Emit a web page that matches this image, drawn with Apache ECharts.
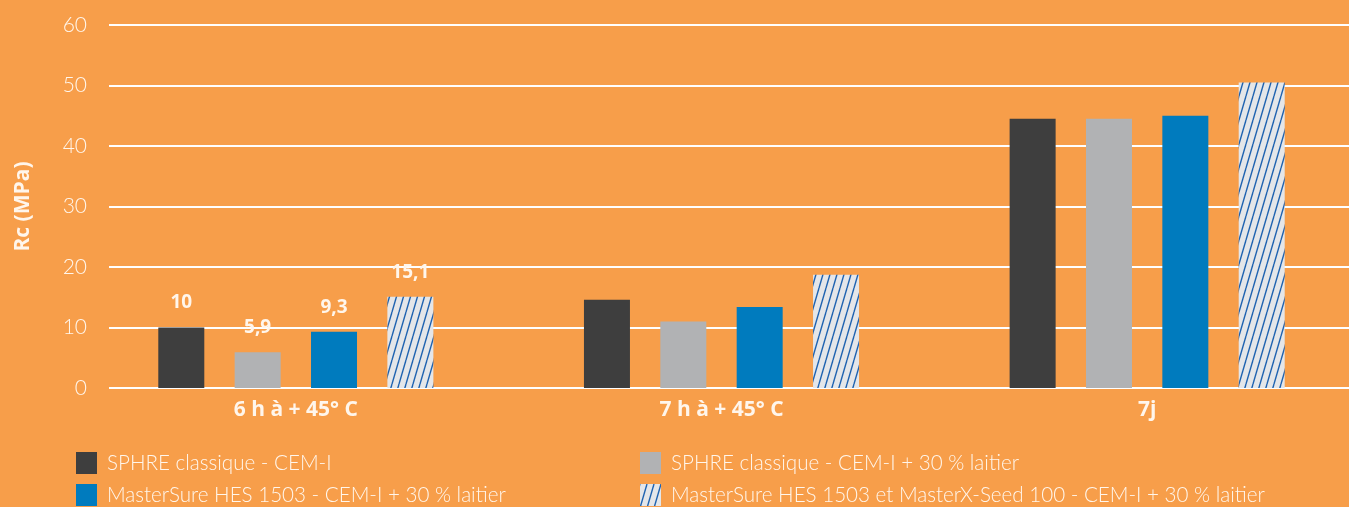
<!DOCTYPE html>
<html>
<head>
<meta charset="utf-8">
<script src="https://cdn.jsdelivr.net/npm/echarts@6/dist/echarts.min.js"></script>
<style>
html,body{margin:0;padding:0;background:#F79E4A;}
#chart{width:1349px;height:507px;}
</style>
</head>
<body>
<div id="chart"></div>
<script>
// ---- data ----
const categories = ['6 h à + 45° C', '7 h à + 45° C', '7j'];
const seriesNames = [
  'SPHRE classique - CEM-I',
  'SPHRE classique - CEM-I + 30 % laitier',
  'MasterSure HES 1503 - CEM-I + 30 % laitier',
  'MasterSure HES 1503 et MasterX-Seed 100 - CEM-I + 30 % laitier'
];
const sphreClassique = [10, 14.6, 44.5];
const sphreLaitier = [5.9, 11.0, 44.5];
const hesLaitier = [9.3, 13.4, 45.0];
const hesSeedLaitier = [15.1, 18.7, 50.5];
const labelledCategory = [true, false, false];
const yTicks = [0, 10, 20, 30, 40, 50, 60];

// ---- styles ----
const WHITE = '#FFF6EC';
const FONT = 'Lato, "Open Sans", sans-serif';
const BOLDFONT = '"Open Sans", Lato, sans-serif';

function makeHatch() {
  const w = 7, h = 24;
  const c = document.createElement('canvas');
  c.width = w; c.height = h;
  const ctx = c.getContext('2d');
  ctx.fillStyle = '#E4E6E9';
  ctx.fillRect(0, 0, w, h);
  ctx.strokeStyle = '#1E62B0';
  ctx.lineWidth = 1.4;
  for (const dx of [-w, 0, w]) {
    ctx.beginPath();
    ctx.moveTo(dx, h);
    ctx.lineTo(dx + w, 0);
    ctx.stroke();
  }
  return c;
}
const hatch = { image: makeHatch(), repeat: 'repeat' };
const colors = ['#3E3E3E', '#B1B2B4', '#007BBE', hatch];
const values = [sphreClassique, sphreLaitier, hesLaitier, hesSeedLaitier];

const chart = echarts.init(document.getElementById('chart'));

const series = values.map((vals, si) => ({
  name: seriesNames[si],
  type: 'bar',
  xAxisIndex: 1,
  yAxisIndex: 1,
  barWidth: 46,
  barGap: '66%',
  itemStyle: { color: colors[si] },
  data: vals.map((v, ci) => ({
    value: v,
    label: {
      show: labelledCategory[ci],
      position: 'top',
      distance: 15,
      formatter: (p) => String(p.value).replace('.', ','),
      color: WHITE,
      fontFamily: BOLDFONT,
      fontWeight: 'bold',
      fontSize: 19
    }
  }))
}));

const legendPos = [
  { left: 76, top: 452 },
  { left: 640, top: 452 },
  { left: 76, top: 484 },
  { left: 640, top: 484 }
];
const legends = seriesNames.map((n, i) => ({
  left: legendPos[i].left,
  top: legendPos[i].top,
  orient: 'horizontal',
  padding: 0,
  itemWidth: 21,
  itemHeight: 22,
  icon: 'rect',
  selectedMode: false,
  data: [n],
  textStyle: {
    color: WHITE,
    fontFamily: FONT,
    fontWeight: 300,
    fontSize: 20.6,
    padding: [0, 0, 0, 5]
  }
}));

chart.setOption({
  backgroundColor: '#F79E4A',
  animation: false,
  legend: legends,
  grid: [
    { left: 109, right: 0, top: 25, bottom: 119, outerBoundsMode: 'none', containLabel: false },
    { left: 83, width: 1277, top: 25, bottom: 119, outerBoundsMode: 'none', containLabel: false }
  ],
  xAxis: [
    { gridIndex: 0, type: 'value', show: false, min: 0, max: 1 },
    {
      gridIndex: 1,
      type: 'category',
      data: categories,
      axisLine: { show: false },
      axisTick: { show: false },
      axisLabel: {
        color: WHITE,
        fontFamily: BOLDFONT,
        fontWeight: 'bold',
        fontSize: 21,
        margin: 12
      }
    }
  ],
  yAxis: [
    {
      gridIndex: 0,
      type: 'value',
      min: yTicks[0],
      max: yTicks[yTicks.length - 1],
      interval: 10,
      name: 'Rc (MPa)',
      nameLocation: 'middle',
      nameRotate: 90,
      nameGap: 75,
      nameTextStyle: {
        color: WHITE,
        fontFamily: BOLDFONT,
        fontWeight: 'bold',
        fontSize: 21
      },
      axisLine: { show: false },
      axisTick: { show: false },
      axisLabel: {
        color: WHITE,
        fontFamily: FONT,
        fontWeight: 300,
        fontSize: 21,
        margin: 22
      },
      splitLine: { show: true, lineStyle: { color: '#FFFFFF', width: 2 } }
    },
    {
      gridIndex: 1,
      type: 'value',
      min: yTicks[0],
      max: yTicks[yTicks.length - 1],
      interval: 10,
      show: false,
      splitLine: { show: false }
    }
  ],
  series: series
});
</script>
</body>
</html>
